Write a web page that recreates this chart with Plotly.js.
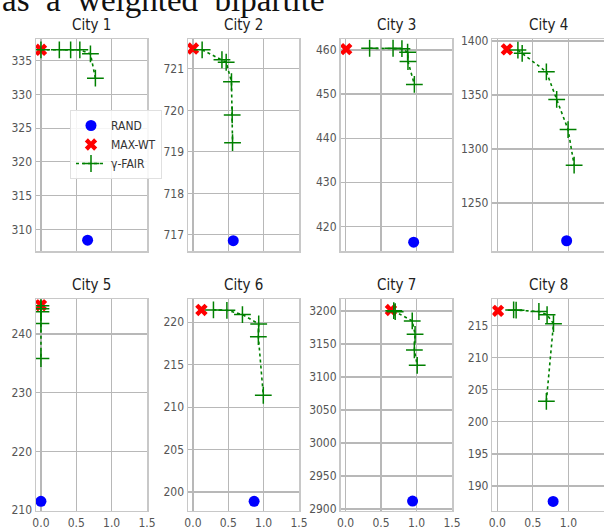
<!DOCTYPE html>
<html>
<head>
<meta charset="utf-8">
<script src="https://cdn.plot.ly/plotly-3.0.1.min.js"></script>
<style>html,body{margin:0;padding:0;background:#fff;}#chart{width:604px;height:532px;}</style>
</head>
<body>
<div id="chart"></div>
<script>
// ---- data ----
const cities = ['City 1','City 2','City 3','City 4','City 5','City 6','City 7','City 8'];
const randX = [0.66, 0.57, 0.96, 0.975, 0.0, 0.865, 0.945, 0.785];
const randY = [308.4, 716.86, 416.4, 1215, 211.5, 198.9, 2912, 187.6];
const maxwtX = [0.0, 0.0, 0.01, 0.135, 0.0, 0.12, 0.64, 0.01];
const maxwtY = [336.6, 721.49, 460.2, 1392.3, 244.9, 221.45, 3201.5, 217.3];
const fairX = [
  [0.0, 0.26, 0.42, 0.55, 0.70, 0.77],
  [0.13, 0.41, 0.47, 0.545, 0.555, 0.56],
  [0.34, 0.67, 0.795, 0.875, 0.88, 0.97],
  [0.29, 0.35, 0.69, 0.835, 0.995, 1.08],
  [0.0, 0.0, 0.0, 0.0, 0.0],
  [0.29, 0.48, 0.70, 0.93, 0.925, 0.995],
  [0.68, 0.70, 0.94, 0.98, 0.97, 1.01],
  [0.23, 0.265, 0.585, 0.70, 0.79, 0.69]
];
const fairY = [
  [336.6, 336.6, 336.6, 336.6, 336.0, 332.4],
  [721.46, 721.22, 721.16, 720.69, 719.89, 719.22],
  [460.4, 460.4, 460.3, 459.5, 457.4, 452.2],
  [1391.6, 1388.6, 1371.5, 1345.9, 1318, 1285],
  [244.8, 244.3, 243.8, 241.8, 235.8],
  [221.45, 221.4, 220.9, 219.8, 218.3, 211.4],
  [3200.5, 3199, 3185, 3164.7, 3141, 3117.7],
  [217.45, 217.4, 217.2, 216.7, 215.3, 203.2]
];
const xTicks = [0.0, 0.5, 1.0, 1.5];
const yRanges = [[306.8, 338.2],[716.61, 721.72],[414.4, 462.5],[1205.5, 1401.9],
                 [209.9, 245.9],[197.8, 222.7],[2897.4, 3217.7],[186.15, 219.1]];
const yDticks = [5, 1, 10, 50, 10, 5, 50, 5];
const seriesNames = ['RAND', 'MAX-WT', '\u03b3-FAIR'];
const headText = 'as\u00a0\u00a0a\u00a0\u00a0weighted\u00a0\u00a0bipartite';

// ---- layout geometry ----
const W = 604, H = 532;
const colPx = [[36, 147], [188, 299], [340.5, 452], [492.3, 604]];
const rowPx = [[39, 251], [299.3, 510.7]];
const FONT = '"Liberation Sans Narrow", "DejaVu Sans Condensed", "Liberation Sans", Arial, sans-serif';

const traces = [];
const layout = {
  width: W, height: H,
  margin: {l: 0, r: 0, t: 0, b: 0},
  paper_bgcolor: '#fff', plot_bgcolor: '#fff',
  showlegend: true,
  font: {family: FONT, color: '#555', size: 12},
  legend: {
    x: 70 / W, y: 1 - 110 / H, xanchor: 'left', yanchor: 'top',
    bgcolor: 'rgba(255,255,255,0.85)', bordercolor: '#e0e0e0', borderwidth: 1,
    tracegroupgap: 0, itemwidth: 30,
    font: {family: FONT, size: 12, color: '#333'}
  },
  annotations: []
};

for (let i = 0; i < 8; i++) {
  const row = i < 4 ? 0 : 1, col = i % 4;
  const sfx = i === 0 ? '' : String(i + 1);
  const xa = 'x' + sfx, ya = 'y' + sfx;
  traces.push({
    x: [randX[i]], y: [randY[i]], xaxis: xa, yaxis: ya, type: 'scatter', mode: 'markers',
    name: seriesNames[0], showlegend: i === 0,
    marker: {symbol: 'circle', size: 11, color: 'blue'}
  });
  traces.push({
    x: [maxwtX[i]], y: [maxwtY[i]], xaxis: xa, yaxis: ya, type: 'scatter', mode: 'markers',
    name: seriesNames[1], showlegend: i === 0,
    marker: {symbol: 'x', size: 11, color: 'red', line: {width: 0}}
  });
  traces.push({
    x: fairX[i], y: fairY[i], xaxis: xa, yaxis: ya, type: 'scatter', mode: 'lines+markers',
    name: seriesNames[2], showlegend: i === 0,
    line: {color: 'green', dash: 'dot', width: 1.6},
    marker: {symbol: 'cross-thin', size: 12, color: 'green', line: {color: 'green', width: 1.5}}
  });
  const axCommon = {
    showgrid: true, gridcolor: '#b8b8b8', gridwidth: 1.2,
    showline: true, mirror: true, linecolor: '#c8c8c8', linewidth: 1.5,
    zeroline: false, ticks: '', tickfont: {family: FONT, size: 12, color: '#555'}
  };
  layout['xaxis' + sfx] = Object.assign({}, axCommon, {
    domain: [colPx[col][0] / W, colPx[col][1] / W],
    anchor: ya, range: [-0.07, 1.5], tickvals: xTicks, tickformat: '.1f',
    showticklabels: row === 1
  });
  layout['yaxis' + sfx] = Object.assign({}, axCommon, {
    domain: [1 - rowPx[row][1] / H, 1 - rowPx[row][0] / H],
    anchor: xa, range: yRanges[i], dtick: yDticks[i], tick0: 0
  });
  layout.annotations.push({
    text: cities[i], xref: 'paper', yref: 'paper',
    x: (colPx[col][0] + colPx[col][1]) / 2 / W, y: 1 - (row === 0 ? 25 : 285) / H,
    xanchor: 'center', yanchor: 'middle', showarrow: false,
    font: {family: FONT, size: 15, color: '#222'}
  });
}
layout.annotations.push({
  text: headText, xref: 'paper', yref: 'paper',
  x: 0 / W, y: 1 - 20 / H, xanchor: 'left', yanchor: 'bottom', showarrow: false,
  font: {family: '"Liberation Serif", "DejaVu Serif", serif', size: 33, color: '#111'}
});

Plotly.newPlot('chart', traces, layout, {displayModeBar: false, staticPlot: true});
</script>
</body>
</html>
